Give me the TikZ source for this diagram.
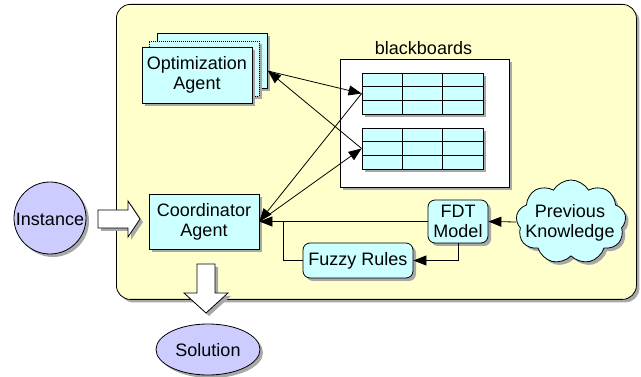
\documentclass[tikz,border=0pt]{standalone}
\usepackage{fontspec}
\setmainfont{Liberation Sans}
\usetikzlibrary{shapes.geometric,shapes.symbols,shadows,arrows.meta,calc}
\definecolor{bgyellow}{HTML}{FFFFCC}
\definecolor{boxcyan}{HTML}{CCFFFF}
\definecolor{lav}{HTML}{CCCCFF}
\definecolor{shad}{HTML}{A8A8A8}
\begin{document}
\begin{tikzpicture}[x=1pt,y=-1pt,
  font=\fontsize{18}{20}\selectfont,
  shd/.style={drop shadow={shadow xshift=3pt,shadow yshift=-3pt,fill=shad,opacity=1}},
  box/.style={draw=black,line width=0.8pt,fill=boxcyan,shd,align=center,inner sep=0pt},
  rbox/.style={box,rounded corners=7pt},
  txt/.style={align=center,inner sep=0pt},
  arr/.style={-{Triangle[length=13pt,width=10pt]},line width=0.8pt},
  ln/.style={line width=0.8pt},
  blockarr/.style={draw=black,line width=0.8pt,fill=white,shd,line join=miter}
]
\useasboundingbox (0,0) rectangle (641,377);

% main frame
\node[draw=black,line width=0.8pt,fill=bgyellow,rounded corners=14pt,shd,
      minimum width=520pt,minimum height=295pt,anchor=north west,inner sep=0pt] (frame) at (116,4) {};

% instance
\node[circle,draw=black,line width=0.8pt,fill=lav,shd,minimum size=72pt,inner sep=0pt] (inst) at (50,218) {};
\node[txt] (instt) at (50,219) {Instance};
\draw[blockarr] (98,210) -- (128,210) -- (128,201) -- (140,219) -- (128,237) -- (128,228) -- (98,228) -- cycle;

% solution
\draw[blockarr] (197,264) -- (215,264) -- (215,293) -- (228,293) -- (206,313) -- (184,293) -- (197,293) -- cycle;
\node[ellipse,draw=black,line width=0.8pt,fill=lav,shd,minimum width=104pt,minimum height=51pt,inner sep=0pt] (sol) at (208,349.5) {};
\node[txt] (solt) at (208,350) {Solution};

% optimization agents (stacked)
\node[box,minimum width=110pt,minimum height=55pt] (ob) at (212,60.5) {};
\node[box,dash pattern=on 1pt off 1pt,minimum width=110pt,minimum height=55pt] (om) at (204,68.5) {};
\node[box,minimum width=110pt,minimum height=56pt] (opt) at (197,75) {Optimization\\Agent};
\coordinate (oa) at (268,71);

% blackboards
\node[txt] (bbl) at (423.5,48.5) {blackboards};
\node[draw=black,line width=0.8pt,fill=white,shd,minimum width=169pt,minimum height=128pt,inner sep=0pt] (bb) at (424.5,123) {};
\node[box,minimum width=121pt,minimum height=41pt] (t1) at (422.5,93.5) {};
\node[box,minimum width=121pt,minimum height=41pt] (t2) at (422.5,148.5) {};
\foreach \t in {t1,t2}{
  \foreach \f in {1/3,2/3}{
    \draw[ln] ($(\t.north west)!\f!(\t.south west)$) -- ($(\t.north east)!\f!(\t.south east)$);
    \draw[ln] ($(\t.north west)!\f!(\t.north east)$) -- ($(\t.south west)!\f!(\t.south east)$);
  }
}

% coordinator
\node[box,minimum width=110pt,minimum height=55pt] (coord) at (204,221.5) {Coordinator\\Agent};

% FDT and fuzzy rules
\node[rbox,minimum width=60pt,minimum height=43pt] (fdt) at (458,221.5) {FDT\\Model};
\node[rbox,minimum width=110pt,minimum height=35pt] (fuzzy) at (358,260.5) {Fuzzy Rules};

% previous knowledge
\node[cloud,cloud puffs=9,cloud puff arc=120,cloud ignores aspect,draw=black,line width=0.8pt,fill=boxcyan,shd,
      minimum width=110pt,minimum height=84pt,inner sep=0pt] (pk) at (571,222) {};
\node[txt] (pkt) at (570,223) {Previous\\Knowledge};

% connectors
\coordinate (j) at (283,221.5);
\draw[arr] (pk.west) -- (fdt.east);
\draw[arr] (fdt.west) -- (coord.east);
\draw[arr] (fdt.south) |- (fuzzy.east);
\draw[ln] (fuzzy.west) -| (j);
\draw[arr] (oa) -- (t1.west);
\draw[arr] (t1.west) -- (coord.east);
\draw[arr] (coord.east) -- (t2.west);
\draw[arr] (t2.west) -- (oa);
\end{tikzpicture}
\end{document}
